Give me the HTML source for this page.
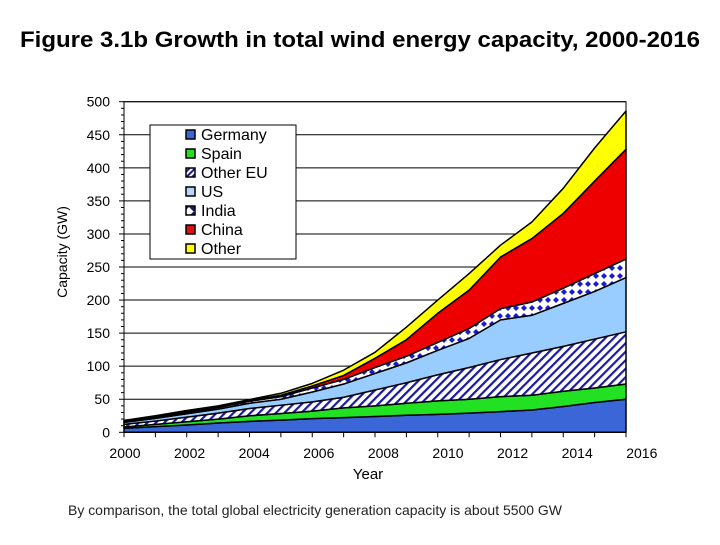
<!DOCTYPE html>
<html><head><meta charset="utf-8"><style>
body{margin:0;background:#fff;}
svg text{font-family:"Liberation Sans",Arial,sans-serif;}
</style></head><body>
<svg id="chart" width="720" height="540" viewBox="0 0 720 540" xmlns="http://www.w3.org/2000/svg">
<defs>
<pattern id="pOE" width="6" height="6" patternUnits="userSpaceOnUse" patternTransform="rotate(45)">
<rect width="6" height="6" fill="#fff"/><rect width="2.2" height="6" fill="#1a1aa0"/></pattern>
<pattern id="pIN" width="8" height="8" patternUnits="userSpaceOnUse">
<rect width="8" height="8" fill="#fff"/><path d="M4 1 L7 4 L4 7 L1 4Z" fill="#1a1ad0"/></pattern>
<pattern id="pOEs" width="4" height="4" patternUnits="userSpaceOnUse" patternTransform="rotate(45)">
<rect width="4" height="4" fill="#fff"/><rect width="2" height="4" fill="#1a1aa0"/></pattern>
<pattern id="pINs" width="9" height="9" patternUnits="userSpaceOnUse">
<rect width="9" height="9" fill="#fff"/><path d="M0 0 L9 0 L4.5 4.5Z M0 9 L9 9 L4.5 4.5Z" fill="#1a1a70"/></pattern>
</defs>
<text x="20" y="47" textLength="680" lengthAdjust="spacingAndGlyphs" font-size="22" font-weight="bold">Figure 3.1b Growth in total wind energy capacity, 2000-2016</text>
<g id="grid"></g>
<g id="areas"></g>
<g id="axes"></g>
<text transform="translate(67,252) rotate(-90)" text-anchor="middle" font-size="14">Capacity (GW)</text>
<text x="368" y="479" text-anchor="middle" font-size="15">Year</text>
<text x="68" y="515" font-size="14" textLength="494" lengthAdjust="spacingAndGlyphs" fill="#222">By comparison, the total global electricity generation capacity is about 5500 GW</text>
<g id="legend">
<rect x="150" y="125" width="146" height="134" fill="#fff" stroke="#000" stroke-width="1"/>
</g>
</svg>
<script>
const years=[2000,2001,2002,2003,2004,2005,2006,2007,2008,2009,2010,2011,2012,2013,2014,2015,2016];
const yTicks=[0,50,100,150,200,250,300,350,400,450,500];
const xLabels=[2000,2002,2004,2006,2008,2010,2012,2014,2016];
const seriesNames=["Germany","Spain","Other EU","US","India","China","Other"];
const germany=[6,8.5,11,14,16.6,18.4,20.6,22.2,23.9,25.8,27.2,29,31.3,33.7,39,45,50];
const spain=[2,3.5,5,6,8.4,10.1,11.4,14.8,16.1,18.2,20.3,21,22.7,22.3,23,22,23];
const otherEU=[4,5,7,9,11,12.5,14,16,24,31,39.5,48,56,64,68,74,79];
const us=[3,4,5,6,8,9,15,20,25,30,37,44,60,57,65,72,82];
const india=[1,1.5,2,2.5,3,4,6,7,9,10,12,15,17,20,23,27,28];
const china=[0.5,0.5,1,0.5,1,2,3,6,14,25,44,58,78,96,113,140,166];
const other=[1.5,2,2,2,1.5,3,4,8,9,19,20,25,18,25,38,50,58];
const fills=["#3a66d8","#22e022","url(#pOE)","#99ccff","url(#pIN)","#ee0000","#ffff00"];
const legendFills=["#3a66d8","#22e022","url(#pOEs)","#b8d4f8","url(#pINs)","#dd1111","#ffff00"];

const X0=124,X1=626,Y0=432.3,Y1=101.7;
const xs=y=>X0+(y-2000)*(X1-X0)/16;
const ys=v=>Y0-v*(Y0-Y1)/500;
const NS="http://www.w3.org/2000/svg";
function mk(tag,attrs,parent){const e=document.createElementNS(NS,tag);for(const k in attrs)e.setAttribute(k,attrs[k]);parent.appendChild(e);return e;}
const grid=document.getElementById('grid'),areas=document.getElementById('areas'),axes=document.getElementById('axes'),legend=document.getElementById('legend');
yTicks.forEach(t=>{
  const l=mk('line',{x1:X0,x2:X1,y1:ys(t),y2:ys(t),stroke:'#000','stroke-width':1},grid);
  
  
  const tx=mk('text',{x:110,y:ys(t)+5,'text-anchor':'end','font-size':14},axes);
  tx.textContent=t;
  
  
});
for(let v=0;v<=500;v+=10){mk('line',{x1:X0-(v%50===0?5:3),x2:X0,y1:ys(v),y2:ys(v),stroke:'#000'},axes);}
const data=[germany,spain,otherEU,us,india,china,other];
let base=years.map(()=>0);
data.forEach((s,i)=>{
  const top=base.map((b,j)=>b+s[j]);
  let d='M'+years.map((y,j)=>xs(y)+','+ys(top[j])).join(' L');
  for(let j=years.length-1;j>=0;j--)d+=' L'+xs(years[j])+','+ys(base[j]);
  d+='Z';
  const p=mk('path',{d:d,fill:fills[i],stroke:'#000','stroke-width':1.5,'stroke-linejoin':'round'},areas);
  
  
  base=top;
});
mk('rect',{x:X0,y:Y1,width:X1-X0,height:Y0-Y1,fill:'none',stroke:'#000','stroke-width':1},axes);
years.forEach(y=>{mk('line',{x1:xs(y),x2:xs(y),y1:Y0,y2:Y0+5,stroke:'#000'},axes);});
xLabels.forEach((y,i)=>{
  const tx=mk('text',{x:125+i*64.6,y:458,'text-anchor':'middle','font-size':14},axes);
  tx.textContent=y;
  
  
});
seriesNames.forEach((n,i)=>{
  const yy=135+i*19;
  const g=mk('g',{},legend);
  
  
  mk('rect',{x:186,y:yy-5,width:9,height:9,fill:legendFills[i],stroke:'#000','stroke-width':1.5},g);
  const t=mk('text',{x:201,y:yy+5,'font-size':16},g);
  t.textContent=n;
});
</script>
</body></html>
